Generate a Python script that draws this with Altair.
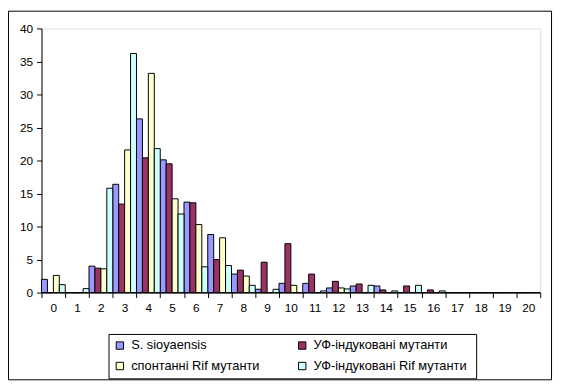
import altair as alt
import pandas as pd

categories = list(range(21))
series_names = ["S. sioyaensis", "УФ-індуковані мутанти", "спонтанні Rif мутанти", "УФ-індуковані  Rif мутанти"]
colors = ["#9999FF", "#993366", "#FFFFCC", "#CCFFFF"]

s_sioyaensis = [2.0, 0, 4.0, 16.4, 26.3, 20.1, 13.7, 8.8, 2.8, 0.5, 1.4, 1.4, 0.7, 1.0, 1.0, 0, 0, 0, 0, 0, 0]
uv_mutants = [0, 0, 3.7, 13.4, 20.4, 19.5, 13.6, 5.0, 3.4, 4.6, 7.4, 2.8, 1.7, 1.3, 0.4, 1.0, 0.4, 0, 0, 0, 0]
spont_rif = [2.6, 0, 3.6, 21.6, 33.2, 14.2, 10.3, 8.3, 2.5, 0, 1.1, 0, 0.7, 0, 0, 0, 0, 0, 0, 0, 0]
uv_rif = [1.2, 0.6, 15.8, 36.2, 21.8, 11.9, 3.9, 4.1, 1.1, 0.5, 0, 0.25, 0.55, 1.1, 0.25, 1.1, 0.25, 0, 0, 0, 0]

rows = []
for name, vals in zip(series_names, [s_sioyaensis, uv_mutants, spont_rif, uv_rif]):
    for c, v in zip(categories, vals):
        rows.append({"cat": c, "series": name, "value": v})
df = pd.DataFrame(rows)

font = "Arial"

bars = alt.Chart(df).mark_bar(stroke="black", strokeWidth=1, opacity=1).encode(
    x=alt.X("cat:O", sort=categories, title=None,
            scale=alt.Scale(paddingInner=0, paddingOuter=0),
            axis=alt.Axis(labelAngle=0, tickBand="extent", tickSize=5, labelPadding=5,
                          domainColor="black", tickColor="black", labelColor="black",
                          labelFont=font, labelFontSize=12, grid=False)),
    xOffset=alt.XOffset("series:N", sort=series_names,
                        scale=alt.Scale(paddingInner=0, paddingOuter=0)),
    y=alt.Y("value:Q", title=None,
            scale=alt.Scale(domain=[0, 40], nice=False),
            axis=alt.Axis(values=[0, 5, 10, 15, 20, 25, 30, 35, 40], tickSize=5, labelPadding=4,
                          domainColor="black", tickColor="black", labelColor="black",
                          labelFont=font, labelFontSize=12, grid=False)),
    color=alt.Color("series:N", sort=series_names,
                    scale=alt.Scale(domain=series_names, range=colors),
                    legend=alt.Legend(title=None, orient="none", legendX=68, legendY=310,
                                      direction="horizontal",
                                      columns=2, columnPadding=36, rowPadding=7,
                                      symbolType="square", symbolSize=56,
                                      symbolStrokeColor="black", symbolStrokeWidth=1,
                                      symbolOpacity=1, labelOffset=5,
                                      labelFont=font, labelFontSize=13, labelColor="black",
                                      labelLimit=300, padding=5,
                                      strokeColor="black", fillColor="white")),
)

border = alt.Chart(pd.DataFrame({"a": [0]})).mark_rect(
    fill="transparent", stroke="black", strokeWidth=1
).encode(
    x=alt.value(-33.5), x2=alt.value(517.5), y=alt.value(-17.5), y2=alt.value(356.5)
)

chart = alt.layer(border, bars).properties(
    width=506, height=268,
    padding={"left": 34, "top": 18, "right": 14, "bottom": 89},
    autosize=alt.AutoSizeParams(type="none"),
).configure_view(stroke=None).configure(background="white")

chart.save("out.html", embed_options={"renderer": "svg", "actions": False})
